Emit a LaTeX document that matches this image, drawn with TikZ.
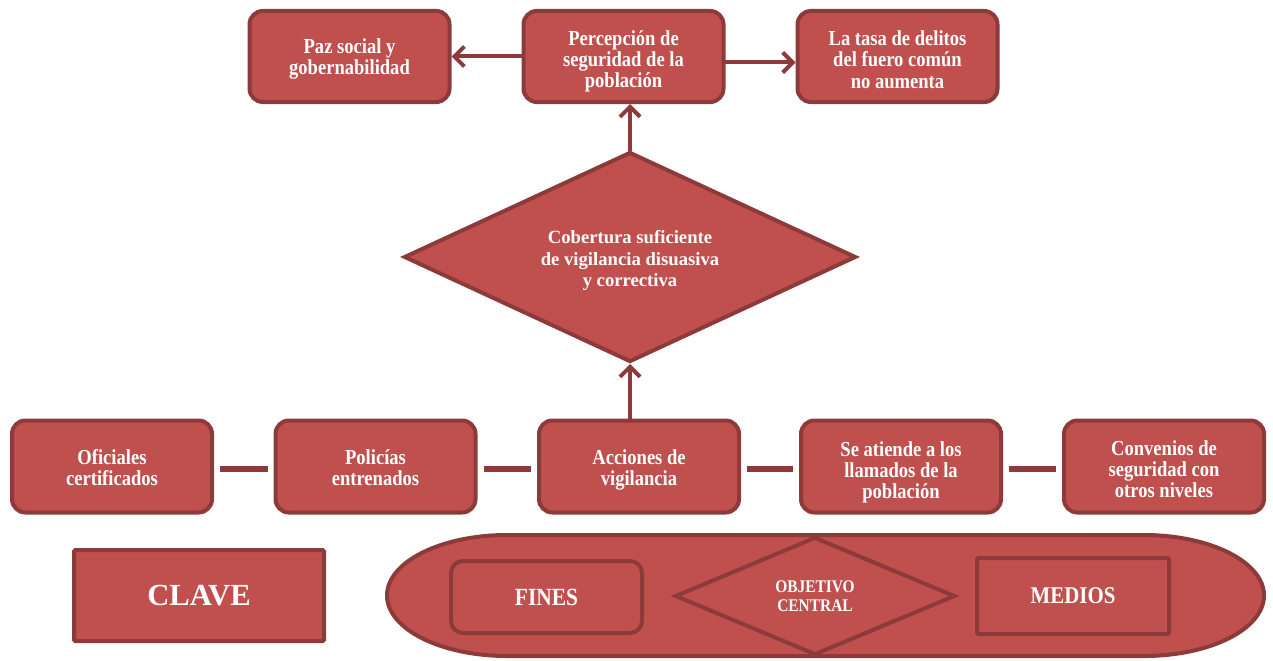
\documentclass[tikz,border=0pt]{standalone}
\usepackage{fontspec}
\setmainfont{Liberation Serif}
\newfontfamily\condfont[FakeStretch=0.87]{Liberation Serif}
\usetikzlibrary{shapes.geometric,arrows.meta}
\definecolor{boxfill}{HTML}{C0504D}
\definecolor{boxline}{HTML}{8C3A3A}
\newcommand\lowtxt[2]{\raisebox{-#1}[\height][\depth]{\begin{tabular}{@{}c@{}}#2\end{tabular}}}
\tikzset{
  x=0.75pt, y=-0.75pt,
  basebox/.style={draw=boxline, fill=boxfill, line width=3pt, text=white, align=center, inner sep=0pt},
  rbox/.style={basebox, rounded corners=10pt, minimum width=200*0.75pt, minimum height=92*0.75pt,
     font=\condfont\bfseries\fontsize{16}{15.9}\selectfont},
  diam/.style={basebox, diamond, minimum width=452*0.75pt, minimum height=210*0.75pt},
  diamtext/.style={text=white, align=center, inner sep=0pt, font=\bfseries\fontsize{14}{16.2}\selectfont},
  arr/.style={draw=boxline, line width=3pt, line cap=round, line join=round,
     -{Straight Barb[length=7.5pt,width=15pt,line width=3pt]}},
  link/.style={draw=boxline, line width=4.5pt, shorten <=4.5pt, shorten >=4.5pt},
}
\begin{document}
\begin{tikzpicture}
\useasboundingbox (0,0) rectangle (1273,660);
% top row
\node[rbox, minimum height=91*0.75pt] (paz) at (349.5,56.5) {\lowtxt{2.3pt}{Paz social y\\gobernabilidad}};
\node[rbox, minimum height=91*0.75pt] (perc) at (623.5,56.5) {\lowtxt{4.3pt}{Percepci\'on de\\seguridad de la\\poblaci\'on}};
\node[rbox, minimum height=91*0.75pt] (tasa) at (897.5,56.5) {\lowtxt{4.5pt}{La tasa de delitos\\del fuero com\'un\\no aumenta}};
% diamond
\node[diam] (cob) at (630,257) {};
\node[diamtext] (cobt) at (630,260.5) {Cobertura suficiente\\de vigilancia disuasiva\\y correctiva};
% bottom row
\node[rbox] (ofi) at (112,466.5) {\lowtxt{3pt}{Oficiales\\certificados}};
\node[rbox] (pol) at (375.5,466.5) {\lowtxt{3pt}{Polic\'ias\\entrenados}};
\node[rbox] (acc) at (639,466.5) {\lowtxt{3pt}{Acciones de\\vigilancia}};
\node[rbox] (ate) at (901,466.5) {\lowtxt{5pt}{Se atiende a los\\llamados de la\\poblaci\'on}};
\node[rbox] (con) at (1164,466.5) {\lowtxt{4.3pt}{Convenios de\\seguridad con\\otros niveles}};
% connectors
\draw[arr] (perc.west) -- (paz.east);
\draw[arr] ([yshift=-6*0.75pt]perc.east) -- ([yshift=-6*0.75pt]tasa.west);
\draw[arr] (cob.north) -- (cob.north |- perc.south);
\draw[arr] (acc.north -| cob.south) -- (cob.south);
\draw[link] ([yshift=-2*0.75pt]ofi.east) -- ([yshift=-2*0.75pt]pol.west);
\draw[link] ([yshift=-2*0.75pt]pol.east) -- ([yshift=-2*0.75pt]acc.west);
\draw[link] ([yshift=-2*0.75pt]acc.east) -- ([yshift=-2*0.75pt]ate.west);
\draw[link] ([yshift=-2*0.75pt]ate.east) -- ([yshift=-2*0.75pt]con.west);
% key
\node[basebox, rounded corners=1pt, minimum width=250*0.75pt, minimum height=91*0.75pt,
  font=\bfseries\fontsize{23}{26}\selectfont] (clave) at (199,595.5) {CLAVE};
\path[draw=boxline, fill=boxfill, line width=3pt]
  (507,535) -- (1144,535) arc[start angle=-90, end angle=90, x radius=120, y radius=60.5]
  -- (507,656) arc[start angle=90, end angle=270, x radius=120, y radius=60.5] -- cycle;
\node[basebox, rounded corners=9pt, minimum width=191*0.75pt, minimum height=72*0.75pt,
  font=\condfont\bfseries\fontsize{18.5}{20}\selectfont] (fines) at (546.5,597) {FINES};
\node[basebox, diamond, minimum width=280*0.75pt, minimum height=118*0.75pt,
  font=\condfont\bfseries\fontsize{13.3}{14.3}\selectfont] (obj) at (815,596) {OBJETIVO\\CENTRAL};
\node[basebox, rounded corners=1pt, minimum width=192*0.75pt, minimum height=76*0.75pt,
  font=\condfont\bfseries\fontsize{18}{20}\selectfont] (medios) at (1073,596) {MEDIOS};
\end{tikzpicture}
\end{document}
